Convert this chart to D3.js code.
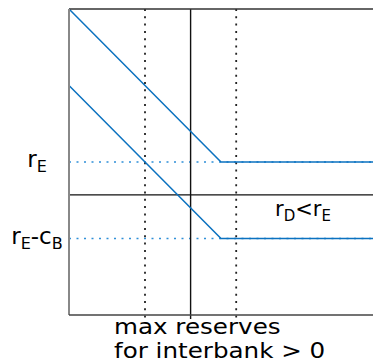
<!DOCTYPE html>
<html>
<head>
<meta charset="utf-8">
<script src="https://cdn.jsdelivr.net/npm/d3@7"></script>
<style>
  body { margin: 0; background: #fff; }
  text { font-family: "DejaVu Sans", sans-serif; fill: #000; }
</style>
</head>
<body>
<div id="chart"></div>
<script>
// curves: rate vs reserves (two parallel lines with a kink)
const upperLine = [[0, 4], [2, 2], [4, 2]];
const lowerLine = [[0, 3], [2, 1], [4, 1]];
const dottedX = [1, 2.2];   // dotted vertical markers
const solidX = 1.6;         // solid vertical
const solidY = 1.57;        // solid horizontal
const levels = [{ y: 2, main: "r", sub: "E" }, { y: 1, main: "r", sub: "E", rest: "-c", sub2: "B" }];
const xLabel = ["max reserves", "for interbank > 0"];

const width = 373, height = 364;
const margin = { top: 9, right: 0, bottom: 49, left: 69 };

const svg = d3.select('#chart').append('svg')
  .attr('width', width)
  .attr('height', height);

const x = d3.scaleLinear().domain([0, 4]).range([margin.left, width - margin.right]);
const y = d3.scaleLinear().domain([0, 4]).range([height - margin.bottom, margin.top]);

const blue = '#0b72c0';

// dotted horizontal level lines
svg.selectAll('.lvl')
  .data(levels)
  .enter().append('line')
  .attr('x1', x(0)).attr('x2', x(4))
  .attr('y1', d => y(d.y)).attr('y2', d => y(d.y))
  .style('stroke', '#2f8fd8')
  .style('stroke-width', 1.6)
  .style('stroke-dasharray', '2,5.5');

// dotted verticals
svg.selectAll('.dv')
  .data(dottedX)
  .enter().append('line')
  .attr('x1', d => x(d)).attr('x2', d => x(d))
  .attr('y1', y(4)).attr('y2', y(0) + 3)
  .style('stroke', '#222')
  .style('stroke-width', 1.8)
  .style('stroke-dasharray', '2,5.3');

// solid vertical & horizontal
svg.append('line')
  .attr('x1', x(solidX)).attr('x2', x(solidX))
  .attr('y1', y(4)).attr('y2', y(0) + 4)
  .style('stroke', '#111').style('stroke-width', 1.4);
svg.append('line')
  .attr('x1', x(0)).attr('x2', x(4))
  .attr('y1', y(solidY)).attr('y2', y(solidY))
  .style('stroke', '#111').style('stroke-width', 1.4);

// curves
const line = d3.line().x(d => x(d[0])).y(d => y(d[1]));
[upperLine, lowerLine].forEach(pts => {
  svg.append('path')
    .datum(pts)
    .attr('d', line)
    .style('fill', 'none')
    .style('stroke', blue)
    .style('stroke-width', 1.5);
});

// frame: top border, left & bottom axes
svg.append('line')
  .attr('x1', x(0)).attr('x2', x(4)).attr('y1', y(4)).attr('y2', y(4))
  .style('stroke', '#333').style('stroke-width', 1.5);
svg.append('line')
  .attr('x1', x(0)).attr('x2', x(0)).attr('y1', y(4)).attr('y2', y(0))
  .style('stroke', '#888').style('stroke-width', 2);
svg.append('line')
  .attr('x1', x(0)).attr('x2', x(4)).attr('y1', y(0)).attr('y2', y(0))
  .style('stroke', '#444').style('stroke-width', 1.5);

// y level labels
const lab = svg.selectAll('.lab')
  .data(levels)
  .enter().append('text')
  .attr('x', 37)
  .attr('y', d => y(d.y) + 5)
  .attr('text-anchor', 'middle')
  .style('font-size', '23px');
lab.each(function(d) {
  const t = d3.select(this);
  t.append('tspan').text(d.main);
  t.append('tspan').text(d.sub).attr('dy', 5).style('font-size', '16px');
  if (d.rest) {
    t.append('tspan').text(d.rest).attr('dy', -5);
    t.append('tspan').text(d.sub2).attr('dy', 5).style('font-size', '16px');
  }
});

// condition label
const cond = svg.append('text')
  .attr('x', 275).attr('y', 216)
  .style('font-size', '21px');
cond.append('tspan').text('r');
cond.append('tspan').text('D').attr('dy', 5).style('font-size', '15px');
cond.append('tspan').text('<r').attr('dy', -5);
cond.append('tspan').text('E').attr('dy', 5).style('font-size', '15px');

// x label (slightly wide lettering)
svg.selectAll('.xl')
  .data(xLabel)
  .enter().append('text')
  .attr('transform', (d, i) => `translate(114,${334 + i * 24}) scale(1.2,1)`)
  .style('font-size', '20.5px')
  .text(d => d);
</script>
</body>
</html>
